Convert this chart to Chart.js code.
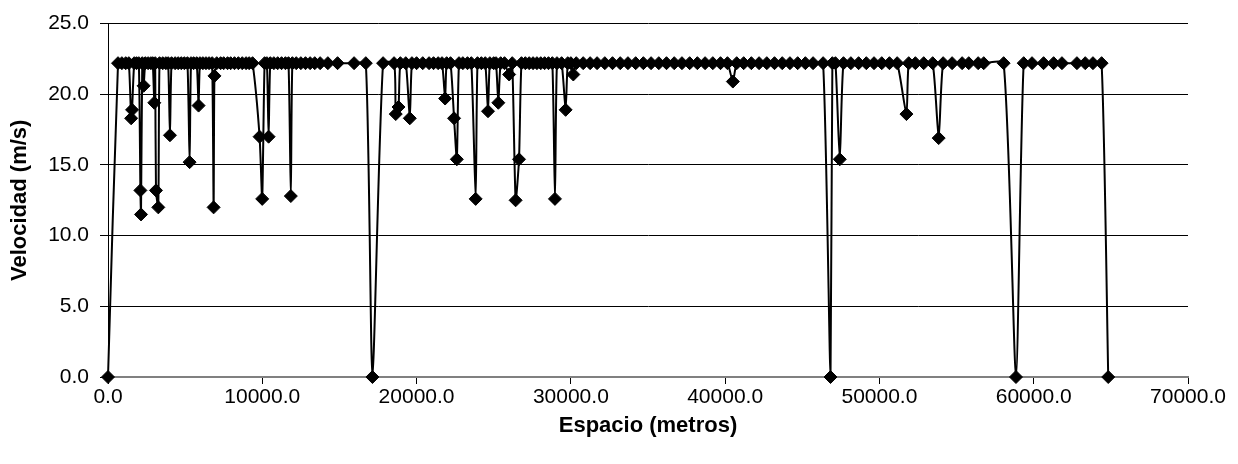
<!DOCTYPE html>
<html>
<head>
<meta charset="utf-8">
<script src="https://cdn.jsdelivr.net/npm/chart.js@4/dist/chart.umd.min.js"></script>
<style>
html,body{margin:0;padding:0;background:#fff;}
#wrap{width:1238px;height:464px;}
</style>
</head>
<body>
<div id="wrap"><canvas id="c" width="1238" height="464"></canvas></div>
<script>
// Distance along the route (metres)
const espacio = [
  0, 650, 900, 1150, 1350, 1500, 1560, 1700, 1850, 2000, 2100, 2140, 2220, 2310, 2420, 2600, 2780, 2900, 3000, 3060,
  3110, 3260, 3340, 3550, 3750, 3900, 4015, 4120, 4350, 4550, 4750, 4950, 5150, 5290, 5380, 5550, 5750, 5870, 5960, 6150,
  6350, 6550, 6750, 6845, 6900, 7050, 7300, 7500, 7750, 7950, 8200, 8450, 8700, 8950, 9150, 9370, 9825, 9995, 10150, 10300,
  10410, 10520, 10750, 11000, 11250, 11500, 11700, 11850, 11950, 12200, 12500, 12800, 13100, 13400, 13750, 14250, 14880, 15950, 16710, 17140,
  17830, 18540, 18650, 18830, 18950, 19300, 19560, 19700, 20000, 20400, 20810, 21100, 21400, 21650, 21850, 21950, 22200, 22430, 22610, 22750,
  23000, 23300, 23550, 23830, 23950, 24200, 24450, 24630, 24750, 25000, 25150, 25300, 25450, 25700, 26000, 26200, 26420, 26640, 26800, 27050,
  27300, 27550, 27800, 28050, 28300, 28550, 28800, 28970, 29100, 29400, 29660, 29800, 30000, 30160, 30350, 30800, 31250, 31700, 32200, 32700,
  33200, 33700, 34200, 34700, 35200, 35700, 36200, 36700, 37200, 37700, 38200, 38700, 39200, 39700, 40150, 40500, 40750, 41200, 41700, 42200,
  42700, 43200, 43700, 44200, 44700, 45200, 45700, 46350, 46830, 46950, 47150, 47430, 47670, 48150, 48650, 49150, 49650, 50150, 50650, 51150,
  51750, 51900, 52330, 52870, 53450, 53840, 54130, 54710, 55360, 55790, 56400, 56760, 58050, 58850, 59350, 59890, 60640, 61290, 61830, 62800,
  63340, 63840, 64400, 64830
];
// Speed (m/s)
const velocidad = [
  0, 22.2, 22.2, 22.2, 22.2, 18.3, 18.9, 22.2, 22.2, 22.2, 13.2, 11.5, 22.2, 20.6, 22.2, 22.2, 22.2, 22.2, 19.4, 22.2,
  13.2, 12.0, 22.2, 22.2, 22.2, 22.2, 17.1, 22.2, 22.2, 22.2, 22.2, 22.2, 22.2, 15.2, 22.2, 22.2, 22.2, 19.2, 22.2, 22.2,
  22.2, 22.2, 22.2, 12.0, 21.3, 22.2, 22.2, 22.2, 22.2, 22.2, 22.2, 22.2, 22.2, 22.2, 22.2, 22.2, 17.0, 12.6, 22.2, 22.2,
  17.0, 22.2, 22.2, 22.2, 22.2, 22.2, 22.2, 12.8, 22.2, 22.2, 22.2, 22.2, 22.2, 22.2, 22.2, 22.2, 22.2, 22.2, 22.2, 0,
  22.2, 22.2, 18.6, 19.1, 22.2, 22.2, 18.3, 22.2, 22.2, 22.2, 22.2, 22.2, 22.2, 22.2, 19.7, 22.2, 22.2, 18.3, 15.4, 22.2,
  22.2, 22.2, 22.2, 12.6, 22.2, 22.2, 22.2, 18.8, 22.2, 22.2, 22.2, 19.4, 22.2, 22.2, 21.4, 22.2, 12.5, 15.4, 22.2, 22.2,
  22.2, 22.2, 22.2, 22.2, 22.2, 22.2, 22.2, 12.6, 22.2, 22.2, 18.9, 22.2, 22.2, 21.4, 22.2, 22.2, 22.2, 22.2, 22.2, 22.2,
  22.2, 22.2, 22.2, 22.2, 22.2, 22.2, 22.2, 22.2, 22.2, 22.2, 22.2, 22.2, 22.2, 22.2, 22.2, 20.9, 22.2, 22.2, 22.2, 22.2,
  22.2, 22.2, 22.2, 22.2, 22.2, 22.2, 22.2, 22.2, 0, 22.2, 22.2, 15.4, 22.2, 22.2, 22.2, 22.2, 22.2, 22.2, 22.2, 22.2,
  18.6, 22.2, 22.2, 22.2, 22.2, 16.9, 22.2, 22.2, 22.2, 22.2, 22.2, 22.2, 22.2, 0, 22.2, 22.2, 22.2, 22.2, 22.2, 22.2,
  22.2, 22.2, 22.2, 0
];
const xTicks = [0, 10000, 20000, 30000, 40000, 50000, 60000, 70000];
const yTicks = [0, 5, 10, 15, 20, 25];
const xTitle = 'Espacio (metros)';
const yTitle = 'Velocidad (m/s)';

const points = espacio.map((x, i) => ({x: x, y: velocidad[i]}));
const FONT = 'Liberation Sans, Arial, Helvetica, sans-serif';

new Chart(document.getElementById('c'), {
  type: 'scatter',
  data: {
    datasets: [{
      data: points,
      showLine: true,
      borderColor: '#000',
      borderWidth: 2,
      tension: 0.2,
      pointStyle: 'rectRot',
      pointRadius: 6.5,
      pointBackgroundColor: '#000',
      pointBorderColor: '#000',
      pointBorderWidth: 1,
      clip: false
    }]
  },
  options: {
    responsive: false,
    animation: false,
    layout: {padding: {left: 0, right: 50, top: 18, bottom: 0}},
    plugins: {legend: {display: false}, tooltip: {enabled: false}},
    scales: {
      x: {
        type: 'linear',
        min: xTicks[0],
        max: xTicks[xTicks.length - 1],
        afterBuildTicks: s => { s.ticks = xTicks.map(v => ({value: v})); },
        afterFit: s => { s.height = 87; },
        grid: {drawOnChartArea: false, drawTicks: true, tickLength: 7, tickColor: '#000'},
        border: {display: true, color: '#808080', width: 2},
        ticks: {
          color: '#000', padding: 1, maxRotation: 0,
          font: {family: FONT, size: 21},
          callback: v => Number(v).toFixed(1)
        },
        title: {display: true, text: xTitle, color: '#000', font: {family: FONT, size: 22, weight: 'bold'}, padding: {bottom: 25, top: 0}}
      },
      y: {
        min: yTicks[0],
        max: yTicks[yTicks.length - 1],
        afterBuildTicks: s => { s.ticks = yTicks.map(v => ({value: v})); },
        afterFit: s => { s.width = 108; },
        grid: {
          color: c => (c.tick && c.tick.value === 0) ? 'rgba(0,0,0,0)' : '#000',
          lineWidth: 1, tickLength: 8, tickColor: '#000', drawTicks: true
        },
        border: {display: true, color: '#000', width: 1},
        ticks: {
          color: '#000', padding: 11,
          font: {family: FONT, size: 21},
          callback: v => Number(v).toFixed(1)
        },
        title: {display: true, text: yTitle, color: '#000', font: {family: FONT, size: 22, weight: 'bold'}, padding: {top: 7, bottom: 0}}
      }
    }
  }
});
</script>
</body>
</html>
